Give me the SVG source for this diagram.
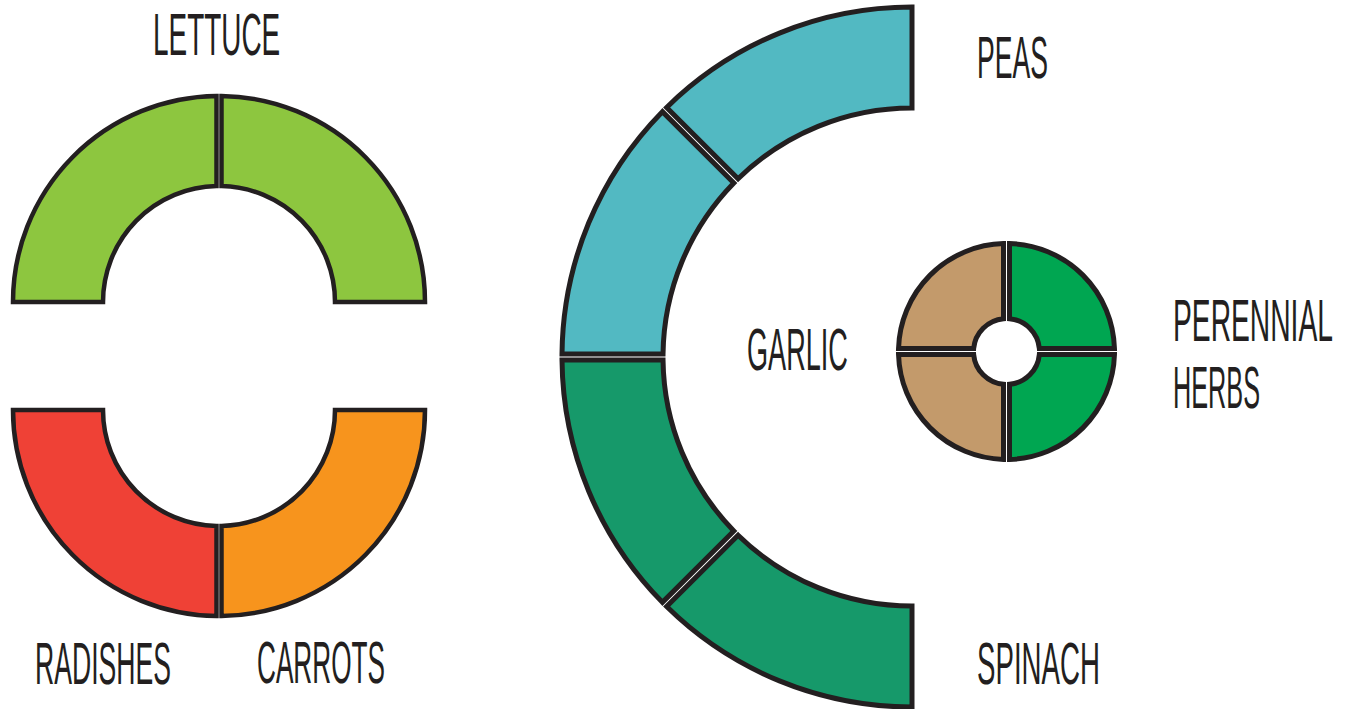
<svg xmlns="http://www.w3.org/2000/svg" width="1351" height="709" viewBox="0 0 1351 709">
<style>
.seg{stroke:#231F20;stroke-linejoin:miter}
.s45{stroke-width:4.5}
.s5{stroke-width:5}
.lbl{font-family:"Liberation Sans","DejaVu Sans",sans-serif;font-size:60px;fill:#231F20}
</style>
<rect width="1351" height="709" fill="#FFFFFF"/>
<g id="lettuce">
<path class="seg s45" fill="#8DC63F" d="M 13 302 A 206 206 0 0 1 216.5 96.02 L 216.5 186.03 A 116 116 0 0 0 103 302 Z"/>
<path class="seg s45" fill="#8DC63F" d="M 221.5 96.02 A 206 206 0 0 1 425 302 L 335 302 A 116 116 0 0 0 221.5 186.03 Z"/>
<text class="lbl" x="0" y="0" font-size="58" transform="translate(153,55) scale(0.4655,1)">LETTUCE</text>
</g>
<g id="radishes">
<path class="seg s45" fill="#EF4136" d="M 13 410 A 206 206 0 0 0 216.5 615.98 L 216.5 525.97 A 116 116 0 0 1 103 410 Z"/>
<text class="lbl" x="0" y="0" transform="translate(35,684) scale(0.4434,1)">RADISHES</text>
</g>
<g id="carrots">
<path class="seg s45" fill="#F7941D" d="M 221.5 615.98 A 206 206 0 0 0 425 410 L 335 410 A 116 116 0 0 1 221.5 525.97 Z"/>
<text class="lbl" x="0" y="0" transform="translate(257,683) scale(0.4364,1)">CARROTS</text>
</g>
<g id="peas">
<path class="seg s5" fill="#52B9C2" d="M 912 7 A 350 350 0 0 0 666.64 107.41 L 738.06 178.83 A 249 249 0 0 1 912 108 Z"/>
<path class="seg s5" fill="#52B9C2" d="M 662.41 111.64 A 350 350 0 0 0 562.01 354 L 663.02 354 A 249 249 0 0 1 733.83 183.06 Z"/>
<text class="lbl" x="0" y="0" transform="translate(977,78) scale(0.4435,1)">PEAS</text>
</g>
<g id="spinach">
<path class="seg s5" fill="#16996A" d="M 562.01 360 A 350 350 0 0 0 662.41 602.36 L 733.83 530.94 A 249 249 0 0 1 663.02 360 Z"/>
<path class="seg s5" fill="#16996A" d="M 912 707 A 350 350 0 0 1 666.64 606.59 L 738.06 535.17 A 249 249 0 0 0 912 606 Z"/>
<text class="lbl" x="0" y="0" transform="translate(977,684) scale(0.461,1)">SPINACH</text>
</g>
<g id="garlic">
<path class="seg s5" fill="#C39A6B" d="M 898.54 348.5 A 108 108 0 0 1 1003.5 243.54 L 1003.5 318.64 A 33 33 0 0 0 973.64 348.5 Z"/>
<path class="seg s5" fill="#C39A6B" d="M 1003.5 459.46 A 108 108 0 0 1 898.54 354.5 L 973.64 354.5 A 33 33 0 0 0 1003.5 384.36 Z"/>
<text class="lbl" x="0" y="0" transform="translate(747,370) scale(0.452,1)">GARLIC</text>
</g>
<g id="perennial-herbs">
<path class="seg s5" fill="#00A651" d="M 1009.5 243.54 A 108 108 0 0 1 1114.46 348.5 L 1039.36 348.5 A 33 33 0 0 0 1009.5 318.64 Z"/>
<path class="seg s5" fill="#00A651" d="M 1114.46 354.5 A 108 108 0 0 1 1009.5 459.46 L 1009.5 384.36 A 33 33 0 0 0 1039.36 354.5 Z"/>
<text class="lbl" x="0" y="0" transform="translate(1173,341) scale(0.4705,1)">PERENNIAL</text>
<text class="lbl" x="0" y="0" transform="translate(1173,408) scale(0.421,1)">HERBS</text>
</g>
<g id="connectors"/>
</svg>
